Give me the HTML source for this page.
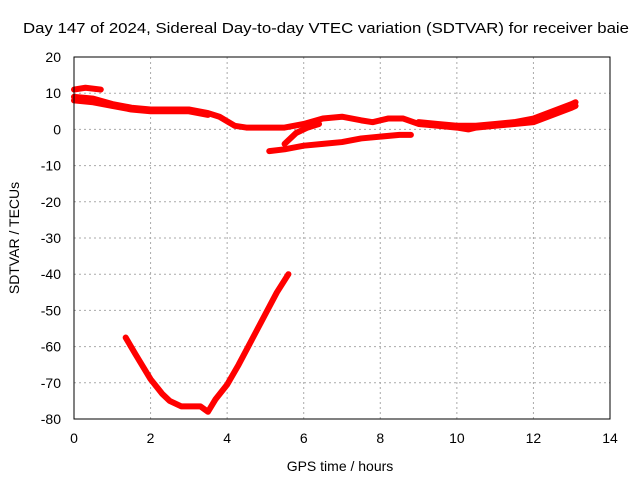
<!DOCTYPE html>
<html><head><meta charset="utf-8"><style>
body{margin:0;background:#fff}
svg{display:block;font-family:"Liberation Sans",sans-serif}
</style></head><body>
<svg id="chart" width="640" height="480">
<text x="326" y="33" font-size="15" text-anchor="middle" textLength="606" lengthAdjust="spacingAndGlyphs">Day 147 of 2024, Sidereal Day-to-day VTEC variation (SDTVAR) for receiver baie</text>
<text x="340" y="471" font-size="14" text-anchor="middle">GPS time / hours</text>
<text transform="translate(19,238) rotate(-90)" font-size="14" text-anchor="middle">SDTVAR / TECUs</text>
<g id="grid"></g><g id="axes"></g><g id="series"></g>
<rect x="74" y="57" width="536" height="362" fill="none" stroke="#000"/>
</svg>
<script>
const xTicks=[0,2,4,6,8,10,12,14];
const yTicks=[20,10,0,-10,-20,-30,-40,-50,-60,-70,-80];
const trackA_x=[1.35,1.6,2,2.3,2.5,2.8,3.1,3.3,3.5,3.7,4,4.3,4.6,5,5.3,5.6];
const trackA_y=[-57.5,-62,-69,-73,-75,-76.5,-76.5,-76.5,-78,-74.5,-70.5,-65,-59,-51,-45,-40];
const trackB_x=[0,0.5,1,1.5,2,2.5,3,3.5,3.8,4.2,4.5,5,5.5,6,6.5,7,7.5,7.8,8.2,8.6,9,9.5,10,10.3,10.5,11,11.5,12,12.5,13,13.1];
const trackB_y=[9,8.5,7,6,5.5,5.5,5.5,4.5,3.5,1,0.5,0.5,0.5,1.5,3,3.5,2.5,2,3,3,1.5,1,0.5,0,0.5,1,1.5,2,4,6,6.5];
const trackB2_x=[0,0.5,1,1.5,2,2.5,3,3.5];
const trackB2_y=[8,7.5,6.5,5.5,5,5,5,4];
const trackB3_x=[9,9.5,10,10.5,11,11.5,12,12.5,13,13.1];
const trackB3_y=[2,1.5,1,1,1.5,2,3,5,7,7.5];
const trackC_x=[0,0.3,0.7];
const trackC_y=[11,11.5,11];
const trackD_x=[5.1,5.5,6,6.5,7,7.5,8,8.5,8.8];
const trackD_y=[-6,-5.5,-4.5,-4,-3.5,-2.5,-2,-1.5,-1.5];
const trackE_x=[5.5,5.8,6.1,6.4];
const trackE_y=[-4,-1,0.5,1.5];
const NS="http://www.w3.org/2000/svg";
const X=v=>74+v*536/14, Y=v=>57+(20-v)*362/100;
const grid=document.getElementById('grid'),axes=document.getElementById('axes'),ser=document.getElementById('series');
function mk(t,a,p){const e=document.createElementNS(NS,t);for(const k in a)e.setAttribute(k,a[k]);p.appendChild(e);return e;}
xTicks.forEach(t=>{
 const g=mk('line',{x1:X(t),x2:X(t),y1:57,y2:419,stroke:'#aaa','stroke-dasharray':'2,3'},grid);
 
 
 const l=mk('text',{x:X(t),y:443,'font-size':14,'text-anchor':'middle'},axes);l.textContent=t;
 
 
});
yTicks.forEach(t=>{
 const g=mk('line',{x1:74,x2:610,y1:Y(t),y2:Y(t),stroke:'#aaa','stroke-dasharray':'2,3'},grid);
 
 
 const l=mk('text',{x:61,y:Y(t)+5,'font-size':14,'text-anchor':'end'},axes);l.textContent=t;
 
 
});
[[trackA_x,trackA_y,'series-track-a'],[trackB_x,trackB_y,'series-track-b'],[trackB2_x,trackB2_y,'series-track-b2'],[trackB3_x,trackB3_y,'series-track-b3'],[trackC_x,trackC_y,'series-track-c'],[trackD_x,trackD_y,'series-track-d'],[trackE_x,trackE_y,'series-track-e']].forEach(([xs,ys,n])=>{
 const pts=xs.map((x,i)=>X(x)+','+Y(ys[i])).join(' ');
 const p=mk('polyline',{points:pts,fill:'none',stroke:'#f00','stroke-width':6,'stroke-linejoin':'round','stroke-linecap':'round'},ser);
 
 
});
</script>
</body></html>
